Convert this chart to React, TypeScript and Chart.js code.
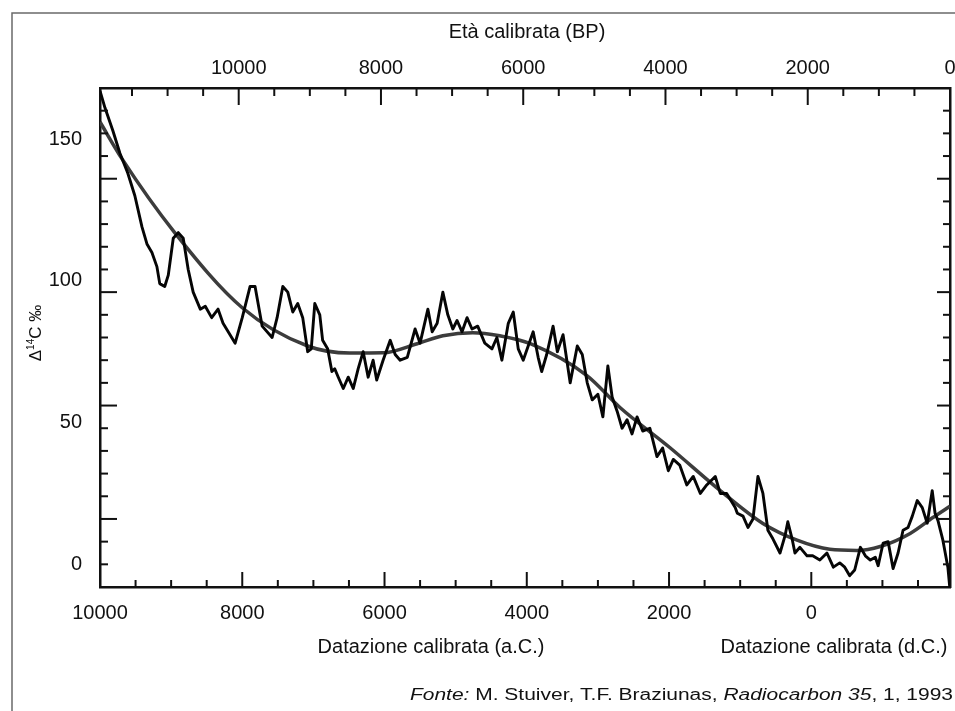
import React, { useEffect, useRef } from "react";
import { Chart, registerables } from "chart.js";

Chart.register(...registerables);

// Calendar years (negative = a.C.) and Δ14C ‰ of the detailed record
const noisyYears = [
  -10000, -9930, -9820, -9720, -9610, -9510, -9410, -9340, -9270, -9200, -9160, -9090, -9040, -8970,
  -8900, -8830, -8760, -8690, -8590, -8520, -8430, -8340, -8270, -8100, -8000, -7890, -7820, -7720,
  -7580, -7510, -7430, -7360, -7290, -7220, -7150, -7080, -7030, -6980, -6910, -6870, -6800, -6740,
  -6700, -6650, -6580, -6510, -6440, -6370, -6300, -6230, -6160, -6110, -6020, -5920, -5850, -5780,
  -5680, -5570, -5500, -5390, -5330, -5260, -5180, -5110, -5040, -4980, -4910, -4840, -4770, -4690,
  -4590, -4490, -4420, -4350, -4260, -4190, -4120, -4050, -3910, -3840, -3790, -3720, -3630, -3570,
  -3490, -3390, -3290, -3220, -3150, -3080, -3000, -2930, -2860, -2800, -2730, -2660, -2590, -2520,
  -2450, -2370, -2270, -2170, -2090, -2010, -1940, -1850, -1750, -1660, -1560, -1470, -1350, -1280,
  -1190, -1070, -1040, -960, -890, -820, -750, -680, -610, -540, -440, -370, -330, -270, -230, -160,
  -60, 20, 120, 220, 310, 400, 470, 540, 610, 690, 760, 830, 900, 940, 1010, 1080, 1150, 1220, 1290,
  1360, 1420, 1490, 1560, 1630, 1700, 1740, 1780, 1850, 1920, 1950,
];
const noisyValues = [
  167, 161, 153, 145, 138, 130, 119, 113, 110, 105, 99, 98, 102, 115,
  117, 115, 104, 96, 90, 91, 87, 90, 85, 78, 87, 98, 98, 84,
  80, 87, 98, 96, 89, 92, 87, 75, 76, 92, 88, 79, 76, 68,
  69, 66, 62, 66, 62, 69, 75, 66, 72, 65, 72, 79, 74, 72,
  73, 83, 78, 90, 82, 85, 96, 88, 83, 86, 82, 87, 83, 84,
  78, 76, 80, 72, 85, 89, 76, 72, 82, 73, 68, 74, 84, 75,
  81, 64, 77, 74, 64, 58, 60, 52, 70, 59, 54, 48, 51, 46,
  52, 47, 48, 38, 41, 33, 37, 35, 28, 31, 25, 28, 31, 25,
  25, 20, 18, 17, 13, 16, 31, 25, 12, 9, 4, 10, 15, 9, 4, 6,
  3, 3, 1.5, 4, -1, 0.5, -1, -4, -2, 6, 3, 1.5, 2.5, -0.5, 7.5, 8, -1.5, 4, 12,
  13, 17, 22.5, 20, 14.5, 26, 18, 15.5, 8.5, -1, -9,
];

// Smoothed trend
const smoothYears = [
  -10000, -9690, -8950, -8000, -7080, -6490, -6020, -5540, -5180, -4760, -4380, -3950,
  -3150, -2690, -1990, -1280, -680, -200, 260, 640, 970, 1390, 1710, 1950,
];
const smoothValues = [
  156, 143, 117, 90.5, 77, 74.5, 74.6, 77.8, 80.6, 81.7, 80.6, 77.8,
  66.5, 55.3, 41.2, 26, 14.4, 8.5, 5.3, 4.9, 6.3, 10.9, 16.5, 20.5,
];

// Axis ticks
const bottomTickYears = [-10000, -8000, -6000, -4000, -2000, 0];
const topTickBP = [10000, 8000, 6000, 4000, 2000, 0];
const yTickValues = [0, 50, 100, 150];
const BP_ZERO = 1950;
const X_MIN = -10000;
const Y_MIN = -8;
const Y_MAX = 168;

const FONT = "'Liberation Sans', Arial, Helvetica, sans-serif";
const TEXT = "#111111";

const decorPlugin = {
  id: "decor",
  beforeDraw(chart: any) {
    const { ctx, width, height } = chart;
    ctx.save();
    ctx.fillStyle = "#ffffff";
    ctx.fillRect(0, 0, width, height);
    ctx.strokeStyle = "#6a6a6a";
    ctx.lineWidth = 1.5;
    ctx.beginPath();
    ctx.moveTo(12, height);
    ctx.lineTo(12, 13);
    ctx.lineTo(width, 13);
    ctx.stroke();
    ctx.restore();
  },
  afterDraw(chart: any) {
    const { ctx, chartArea: a, scales } = chart;
    const x = scales.x;
    const y = scales.y;
    ctx.save();
    ctx.strokeStyle = "#111";
    ctx.lineWidth = 2;
    const seg = (x1: number, y1: number, x2: number, y2: number) => {
      ctx.beginPath();
      ctx.moveTo(x1, y1);
      ctx.lineTo(x2, y2);
      ctx.stroke();
    };
    for (let yr = X_MIN; yr <= BP_ZERO; yr += 500) {
      const px = x.getPixelForValue(yr);
      const len = yr % 2000 === 0 ? 15 : 7;
      seg(px, a.bottom, px, a.bottom - len);
    }
    for (let bp = 0; bp <= BP_ZERO - X_MIN; bp += 500) {
      const px = x.getPixelForValue(BP_ZERO - bp);
      const len = bp % 2000 === 0 ? 17 : 8;
      seg(px, a.top, px, a.top + len);
    }
    for (let v = 0; v <= Y_MAX; v += 8) {
      const py = y.getPixelForValue(v);
      const long = (v - 16) % 40 === 0;
      seg(a.left, py, a.left + (long ? 17 : 8), py);
      seg(a.right, py, a.right - (long ? 13 : 7), py);
    }

    ctx.fillStyle = TEXT;
    ctx.textBaseline = "middle";
    ctx.textAlign = "center";
    ctx.font = `20px ${FONT}`;
    ctx.fillText("Età calibrata (BP)", 527, 32);
    ctx.fillText("Datazione calibrata (a.C.)", 431, 647);
    ctx.fillText("Datazione calibrata (d.C.)", 834, 647);

    // y title, rotated
    ctx.save();
    ctx.translate(36, 333);
    ctx.rotate(-Math.PI / 2);
    const big = `17px ${FONT}`;
    const small = `10px ${FONT}`;
    ctx.textAlign = "left";
    ctx.font = big;
    const wD = ctx.measureText("Δ").width;
    const wC = ctx.measureText("C ‰").width;
    ctx.font = small;
    const w14 = ctx.measureText("14").width;
    let cx = -(wD + w14 + wC) / 2;
    ctx.font = big;
    ctx.fillText("Δ", cx, 0);
    cx += wD;
    ctx.font = small;
    ctx.fillText("14", cx, -5);
    cx += w14;
    ctx.font = big;
    ctx.fillText("C ‰", cx, 0);
    ctx.restore();

    // source line
    const parts: [string, boolean][] = [
      ["Fonte:", true],
      [" M. Stuiver, T.F. Braziunas, ", false],
      ["Radiocarbon 35", true],
      [", 1, 1993", false],
    ];
    ctx.textAlign = "left";
    let total = 0;
    const widths = parts.map(([t, it]) => {
      ctx.font = `${it ? "italic " : ""}16px ${FONT}`;
      const w = ctx.measureText(t).width;
      total += w;
      return w;
    });
    const x0 = 410;
    const targetW = 543;
    const sx = targetW / total;
    ctx.save();
    ctx.translate(x0, 696);
    ctx.scale(sx, 1);
    let px = 0;
    parts.forEach(([t, it], i) => {
      ctx.font = `${it ? "italic " : ""}16px ${FONT}`;
      ctx.fillText(t, px, 0);
      px += widths[i];
    });
    ctx.restore();
    ctx.restore();
  },
};

export default function App() {
  const ref = useRef<HTMLCanvasElement | null>(null);

  useEffect(() => {
    if (!ref.current) return;
    const tickFont = { family: FONT, size: 20 };
    const chart = new Chart(ref.current, {
      type: "line",
      data: {
        datasets: [
          {
            label: "Δ14C",
            data: noisyYears.map((v, i) => ({ x: v, y: noisyValues[i] })),
            borderColor: "#050505",
            borderWidth: 2.9,
            pointRadius: 0,
            tension: 0,
            borderJoinStyle: "round",
            order: 0,
            xAxisID: "x",
            yAxisID: "y",
          },
          {
            label: "trend",
            data: smoothYears.map((v, i) => ({ x: v, y: smoothValues[i] })),
            borderColor: "#3c3c3c",
            borderWidth: 3.5,
            pointRadius: 0,
            cubicInterpolationMode: "monotone",
            order: 1,
            xAxisID: "x",
            yAxisID: "y",
          },
        ],
      },
      options: {
        responsive: false,
        animation: false,
        devicePixelRatio: 1,
        layout: { padding: 0 },
        plugins: { legend: { display: false }, tooltip: { enabled: false } },
        scales: {
          x: {
            type: "linear",
            position: "bottom",
            min: X_MIN,
            max: BP_ZERO,
            afterBuildTicks: (s: any) => {
              s.ticks = bottomTickYears.map((v) => ({ value: v }));
            },
            afterFit: (s: any) => {
              s.height = 124;
              s.paddingLeft = 0;
              s.paddingRight = 0;
            },
            ticks: {
              callback: (v: any) => String(Math.abs(Number(v))),
              autoSkip: false,
              maxRotation: 0,
              padding: 14,
              color: TEXT,
              font: tickFont,
            },
            grid: { display: false, drawTicks: false },
            border: { display: true, color: "#111", width: 2.5 },
          },
          x2: {
            type: "linear",
            position: "top",
            min: X_MIN,
            max: BP_ZERO,
            afterBuildTicks: (s: any) => {
              s.ticks = topTickBP.map((bp) => ({ value: BP_ZERO - bp }));
            },
            afterFit: (s: any) => {
              s.height = 88;
              s.paddingLeft = 0;
              s.paddingRight = 0;
            },
            ticks: {
              callback: (v: any) => String(BP_ZERO - Number(v)),
              autoSkip: false,
              maxRotation: 0,
              padding: 8,
              color: TEXT,
              font: tickFont,
            },
            grid: { display: false, drawTicks: false },
            border: { display: true, color: "#111", width: 2.5 },
          },
          y: {
            type: "linear",
            position: "left",
            min: Y_MIN,
            max: Y_MAX,
            afterBuildTicks: (s: any) => {
              s.ticks = yTickValues.map((v) => ({ value: v }));
            },
            afterFit: (s: any) => {
              s.width = 100;
            },
            ticks: { padding: 18, color: TEXT, font: tickFont },
            grid: { display: false, drawTicks: false },
            border: { display: true, color: "#111", width: 2.5 },
          },
          y2: {
            type: "linear",
            position: "right",
            min: Y_MIN,
            max: Y_MAX,
            afterFit: (s: any) => {
              s.width = 5;
            },
            ticks: { display: false },
            grid: { display: false, drawTicks: false },
            border: { display: true, color: "#111", width: 2.5 },
          },
        },
      },
      plugins: [decorPlugin],
    } as any);
    return () => chart.destroy();
  }, []);

  return (
    <div style={{ position: "absolute", left: 0, top: 0, width: 955, height: 711, background: "#fff" }}>
      <canvas ref={ref} width={955} height={711} style={{ display: "block" }} />
    </div>
  );
}
